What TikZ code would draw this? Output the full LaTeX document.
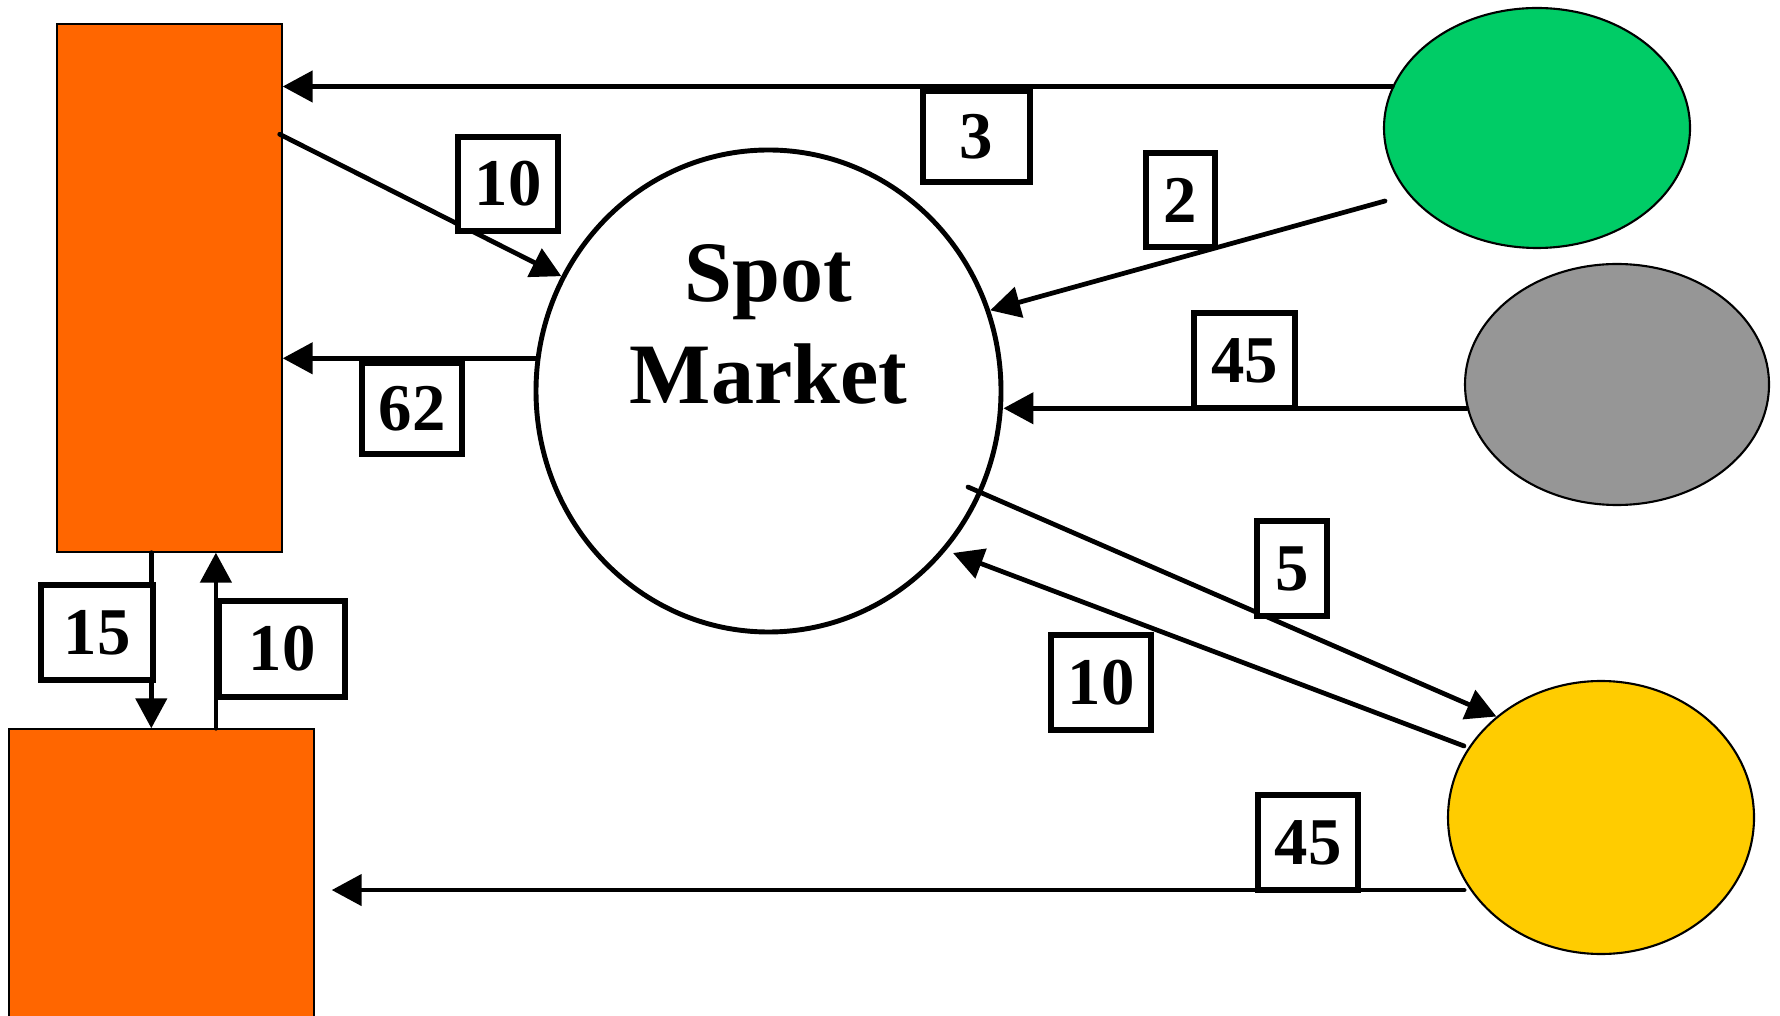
\documentclass[tikz,border=0pt]{standalone}
\usepackage{fontspec}
\setmainfont{Liberation Serif}
\usetikzlibrary{arrows.meta,calc,shapes.geometric}
\definecolor{firmorange}{HTML}{FF6600}
\definecolor{poolgreen}{HTML}{00CC66}
\definecolor{poolgrey}{HTML}{969696}
\definecolor{poolyellow}{HTML}{FFCC00}
\begin{document}
\begin{tikzpicture}[x=0.1mm, y=0.1mm,
  firm/.style={draw=black, line width=0.4pt, fill=firmorange, inner sep=0pt},
  pool/.style={ellipse, draw=black, line width=0.6pt, inner sep=0pt},
  flow/.style={line width=1.35pt, line cap=round, -{Triangle[length=3mm,width=3.1mm]}},
  qty/.style={draw, fill=white, line width=1.5pt, inner sep=0pt, minimum height=9.4mm,
    font=\fontsize{19}{23}\selectfont\bfseries}]
\useasboundingbox (0,0) rectangle (1780,-1016);
\clip (0,0) rectangle (1780,-1016);
% the two firms
\node[firm, minimum width=22.5mm, minimum height=52.8mm] (upper) at (169.5,-288) {};
\node[firm, minimum width=30.5mm, minimum height=30.1mm] (lower) at (161.5,-879.5) {};
% market and the three pools
\node[ellipse, draw, line width=1.4pt, fill=white, inner sep=0pt,
  minimum width=46.5mm, minimum height=48.2mm] (spot) at (768.5,-391) {};
\node[font=\fontsize{24.5}{29}\selectfont\bfseries, align=center, inner sep=0pt]
  (spotname) at ([yshift=6.7mm]spot.center) {Spot\\Market};
\node[pool, fill=poolgreen, minimum width=30.6mm, minimum height=24mm] (green) at (1537,-128) {};
\node[pool, fill=poolgrey, minimum width=30.4mm, minimum height=24.1mm] (grey) at (1617,-384.5) {};
\node[pool, fill=poolyellow, minimum width=30.6mm, minimum height=27.3mm] (yellow) at (1601,-817.5) {};
% flows
\draw[flow] (green.164) -- (green.164 -| upper.east);
\draw[flow] ($(upper.north east)+(-3,-111)$) -- (spot.151);
\draw[flow] (spot.172) -- (spot.172 -| upper.east);
\draw[flow] ($(green.center)+(-152,-73)$) -- (spot.20);
\draw[flow] (grey.189) -- (grey.189 -| spot.east);
\draw[flow] ($(spot.center)+(199.5,-96)$) -- (yellow.136);
\draw[flow] ($(yellow.center)+(-137,71.5)$) -- ($(spot.center)+(184.5,-162)$);
\draw[flow, shorten >=1.7mm] ($(yellow.209)+(-6,0)$) -- (yellow.209 -| lower.east);
\draw[flow] ($(upper.south west)+(95,0)$) coordinate (downx) -- (downx |- lower.north);
\draw[flow] ($(lower.north west)+(207.6,0)$) coordinate (upx) -- (upx |- upper.south);
% quantities
\node[qty, minimum width=10.7mm, minimum height=9.1mm] (q3) at (976.5,-136.5) {3};
\node[qty, minimum width=10mm] (q10a) at (508,-184) {10};
\node[qty, minimum width=10mm, minimum height=9.1mm] (q62) at (412,-408.5) {62};
\node[qty, minimum width=6.9mm] (q2) at (1180.5,-200) {2};
\node[qty, minimum width=10.1mm, minimum height=9.5mm] (q45a) at (1244.5,-360.5) {45};
\node[qty, minimum width=7mm, minimum height=9.5mm] (q5) at (1292,-568.5) {5};
\node[qty, minimum width=10mm, minimum height=9.5mm] (q10b) at (1101,-682.5) {10};
\node[qty, minimum width=10mm, minimum height=9.5mm] (q45b) at (1308,-842.5) {45};
\node[qty, minimum width=11.2mm, minimum height=9.5mm] (q15) at (97,-632.5) {15};
\node[qty, minimum width=12.6mm, minimum height=9.6mm] (q10c) at (282,-649) {10};
\end{tikzpicture}
\end{document}
